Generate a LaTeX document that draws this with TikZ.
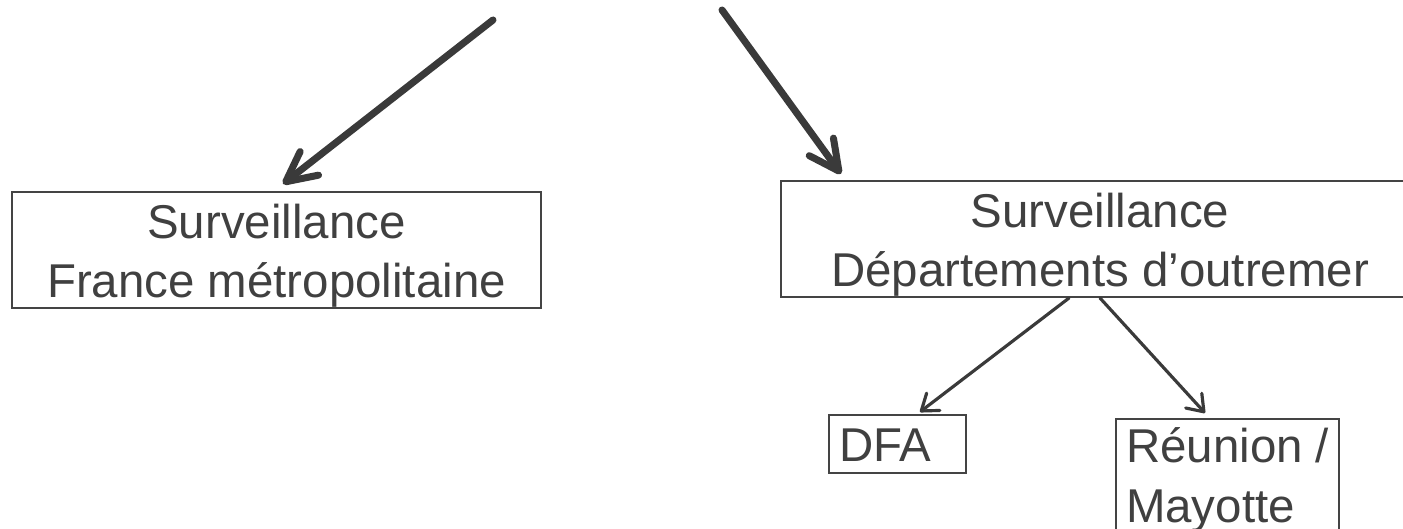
\documentclass[tikz,border=0pt]{standalone}
\usepackage{fontspec}
\setmainfont{Liberation Sans}
\usetikzlibrary{arrows.meta,positioning,calc}
\definecolor{ink}{HTML}{3A3A3A}
\definecolor{frame}{HTML}{444444}
\definecolor{txt}{HTML}{404040}
\tikzset{
  every node/.style={font=\fontsize{13.5}{16.8}\selectfont,text=txt},
  box/.style={draw=frame,line width=0.6pt,align=center,minimum width=53mm,minimum height=11.6mm,inner sep=0pt},
  leafbox/.style={draw=frame,line width=0.6pt,align=left,inner xsep=1mm,inner ysep=0pt},
  bigarrow/.style={-{Straight Barb[length=8.5pt,width=8.5pt,round]},line width=2pt,draw=ink,line cap=round},
  arrow/.style={-{Straight Barb[length=4.3pt,width=6.2pt,round]},line width=0.9pt,draw=ink,line cap=round},
}
\newcommand{\lowstrut}{\rule{0pt}{13pt}}

\begin{document}
\begin{tikzpicture}[x=1cm,y=1cm]
  \useasboundingbox (0,0) rectangle (14.03,5.29);
  \clip (0,0) rectangle (14.03,5.29);

  \node[box,minimum width=52.9mm] (metro) at (2.765,2.79) {\lowstrut Surveillance\\France métropolitaine};
  \node[box,minimum width=63.8mm] (dom) at (11.00,2.90) {\lowstrut Surveillance\\Départements d’outremer};

  \node[leafbox,text width=11.7mm,text height=4.7mm,text depth=1.1mm] (dfa) at (8.975,0.85) {DFA};
  \node[leafbox,inner ysep=0.9mm,anchor=north west] (reunion) at (11.15,1.11) {Réunion /\\Mayotte};

  \coordinate (fromL) at (4.93,5.09);
  \coordinate (fromR) at (7.22,5.19);
  \draw[bigarrow] (fromL) -- ($(metro.north)+(0.065,0.07)$);
  \draw[bigarrow] (fromR) -- ($(dom.north west)+(0.61,0.06)$);

  \draw[arrow] ($(dom.south)+(-0.31,0)$) -- ($(dfa.north)+(0.225,0.02)$);
  \draw[arrow] (dom.south) -- ($(reunion.north west)+(0.90,0.05)$);
\end{tikzpicture}
\end{document}
